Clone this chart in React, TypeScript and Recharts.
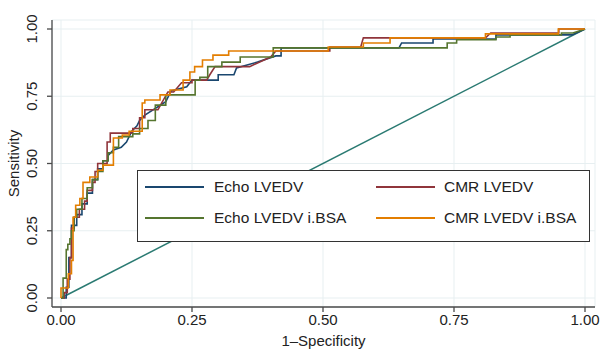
import React from 'react';
import { LineChart, Line, XAxis, YAxis, CartesianGrid, Legend, Label } from 'recharts';

const axisTicks = [0, 0.25, 0.5, 0.75, 1];

const echoLvedv: [number, number][] = [
  [0, 0], [0.01, 0], [0.01, 0.04], [0.015, 0.04], [0.015, 0.15], [0.02, 0.15], [0.02, 0.27], [0.03, 0.27],
  [0.03, 0.31], [0.04, 0.31], [0.04, 0.35], [0.05, 0.35], [0.05, 0.39], [0.06, 0.39], [0.06, 0.44], [0.07, 0.44],
  [0.07, 0.48], [0.08, 0.48], [0.08, 0.51], [0.09, 0.51], [0.09, 0.53], [0.1, 0.55], [0.115, 0.56], [0.125, 0.58],
  [0.13, 0.6], [0.135, 0.62], [0.145, 0.64], [0.15, 0.66], [0.16, 0.68], [0.2, 0.73], [0.21, 0.77], [0.24, 0.785],
  [0.25, 0.81], [0.3, 0.81], [0.3, 0.83], [0.33, 0.83], [0.335, 0.855], [0.375, 0.877], [0.41, 0.9], [0.42, 0.9],
  [0.42, 0.93], [0.645, 0.93], [0.65, 0.948], [0.71, 0.948], [0.71, 0.963], [0.83, 0.963], [0.83, 0.978],
  [0.975, 0.978], [1, 1],
];

const cmrLvedv: [number, number][] = [
  [0, 0], [0.006, 0], [0.006, 0.02], [0.012, 0.02], [0.012, 0.07], [0.017, 0.07], [0.017, 0.15], [0.02, 0.15],
  [0.02, 0.26], [0.025, 0.26], [0.025, 0.3], [0.035, 0.3], [0.035, 0.33], [0.045, 0.33], [0.045, 0.36], [0.05, 0.36],
  [0.05, 0.4], [0.06, 0.4], [0.06, 0.43], [0.065, 0.43], [0.065, 0.47], [0.07, 0.47], [0.07, 0.5], [0.088, 0.5],
  [0.088, 0.58], [0.094, 0.58], [0.094, 0.613], [0.137, 0.613], [0.137, 0.63], [0.15, 0.63], [0.15, 0.67],
  [0.16, 0.67], [0.16, 0.7], [0.185, 0.7], [0.204, 0.766], [0.215, 0.766], [0.23, 0.8], [0.25, 0.8], [0.25, 0.81],
  [0.278, 0.81], [0.284, 0.83], [0.294, 0.86], [0.36, 0.86], [0.4, 0.896], [0.41, 0.918], [0.513, 0.918],
  [0.513, 0.933], [0.572, 0.933], [0.577, 0.967], [0.81, 0.967], [0.82, 0.985], [0.95, 0.985], [0.95, 1], [1, 1],
];

const echoLvedvBsa: [number, number][] = [
  [0, 0], [0.004, 0], [0.004, 0.074], [0.01, 0.074], [0.01, 0.18], [0.013, 0.18], [0.013, 0.2], [0.017, 0.2],
  [0.017, 0.22], [0.02, 0.22], [0.02, 0.25], [0.025, 0.25], [0.025, 0.3], [0.03, 0.3], [0.03, 0.33], [0.04, 0.33],
  [0.04, 0.37], [0.05, 0.37], [0.05, 0.41], [0.06, 0.41], [0.06, 0.44], [0.07, 0.44], [0.07, 0.47], [0.08, 0.47],
  [0.08, 0.51], [0.09, 0.51], [0.09, 0.54], [0.1, 0.54], [0.1, 0.56], [0.11, 0.56], [0.11, 0.6], [0.137, 0.6],
  [0.137, 0.61], [0.15, 0.61], [0.15, 0.63], [0.166, 0.63], [0.166, 0.66], [0.18, 0.66], [0.18, 0.717],
  [0.2, 0.717], [0.2, 0.755], [0.256, 0.755], [0.256, 0.81], [0.265, 0.81], [0.265, 0.82], [0.28, 0.82],
  [0.28, 0.86], [0.307, 0.86], [0.307, 0.877], [0.342, 0.877], [0.342, 0.896], [0.405, 0.896], [0.405, 0.93],
  [0.737, 0.93], [0.737, 0.948], [0.755, 0.948], [0.755, 0.96], [0.83, 0.96], [0.83, 0.97], [0.857, 0.97],
  [0.857, 0.978], [0.955, 0.978], [0.955, 0.985], [0.977, 0.985], [1, 1],
];

const cmrLvedvBsa: [number, number][] = [
  [0, 0], [0, 0.037], [0.014, 0.037], [0.014, 0.09], [0.02, 0.09], [0.02, 0.14], [0.023, 0.14], [0.023, 0.3],
  [0.028, 0.3], [0.028, 0.345], [0.036, 0.345], [0.036, 0.37], [0.042, 0.37], [0.042, 0.43], [0.055, 0.43],
  [0.055, 0.45], [0.07, 0.45], [0.07, 0.475], [0.08, 0.475], [0.08, 0.494], [0.1, 0.494], [0.1, 0.595],
  [0.117, 0.595], [0.117, 0.606], [0.13, 0.606], [0.13, 0.62], [0.155, 0.62], [0.155, 0.725], [0.16, 0.725],
  [0.16, 0.736], [0.189, 0.736], [0.189, 0.755], [0.208, 0.755], [0.208, 0.773], [0.233, 0.773], [0.233, 0.81],
  [0.246, 0.81], [0.246, 0.84], [0.255, 0.84], [0.255, 0.86], [0.27, 0.86], [0.27, 0.885], [0.29, 0.885],
  [0.29, 0.903], [0.32, 0.903], [0.32, 0.918], [0.51, 0.918], [0.51, 0.933], [0.577, 0.933], [0.577, 0.948],
  [0.628, 0.948], [0.628, 0.967], [0.81, 0.967], [0.81, 0.982], [0.949, 0.982], [0.949, 1], [1, 1],
];

const referenceLine: [number, number][] = [[0, 0], [1, 1]];

const seriesNames = ['Echo LVEDV', 'CMR LVEDV', 'Echo LVEDV i.BSA', 'CMR LVEDV i.BSA'];
const seriesColors = ['#1a476f', '#90353b', '#55752f', '#e37e00'];
const seriesData = [echoLvedv, cmrLvedv, echoLvedvBsa, cmrLvedvBsa];

const toPoints = (arr: [number, number][]) => arr.map(([x, y]) => ({ x, y }));

const FONT = '"Liberation Sans", Arial, Helvetica, sans-serif';
const AXIS = '#4a4a4a';

const fmt = (v: number) => v.toFixed(2);

const YTick = (props: any) => {
  const { x, y, payload } = props;
  const tx = x - 8;
  return (
    <text x={tx} y={y} transform={`rotate(-90, ${tx}, ${y})`} textAnchor="middle" fontSize={15} fontFamily={FONT} fill="#222">
      {fmt(payload.value)}
    </text>
  );
};

const LegendBox = () => {
  const cols = [
    { line: 7, text: 76 },
    { line: 238, text: 306 },
  ];
  const rows = [16, 47];
  return (
    <div style={{ position: 'relative', width: 453, height: 72, border: '1px solid #333', background: '#fff', boxSizing: 'border-box', fontFamily: FONT }}>
      {seriesNames.map((name, i) => {
        const c = cols[i % 2];
        const r = rows[Math.floor(i / 2)];
        return (
          <React.Fragment key={name}>
            <div style={{ position: 'absolute', left: c.line, top: r - 1, width: 59, height: 1.6, background: seriesColors[i] }} />
            <div style={{ position: 'absolute', left: c.text, top: r - 10, fontSize: 15.5, lineHeight: '20px', color: '#222', whiteSpace: 'nowrap' }}>{name}</div>
          </React.Fragment>
        );
      })}
    </div>
  );
};

export default function App() {
  return (
    <div style={{ position: 'absolute', left: 0, top: 0, background: '#fff' }}>
      <LineChart width={600} height={351} margin={{ top: 20, right: 5, bottom: 0, left: 0 }}>
        <CartesianGrid stroke="#e7eff1" strokeWidth={1} />
        <XAxis
          type="number"
          dataKey="x"
          domain={[0, 1]}
          ticks={axisTicks}
          interval={0}
          tickFormatter={fmt}
          padding={{ left: 9, right: 10 }}
          height={44}
          stroke={AXIS}
          strokeWidth={1.3}
          tickSize={5}
          tick={{ fontSize: 15, fontFamily: FONT, fill: '#222' }}
          allowDuplicatedCategory
        >
          <Label
            content={() => (
              <text x={323.5} y={346} textAnchor="middle" fontSize={15} fontFamily={FONT} fill="#222">1–Specificity</text>
            )}
          />
        </XAxis>
        <YAxis
          type="number"
          dataKey="y"
          domain={[0, 1]}
          ticks={axisTicks}
          interval={0}
          padding={{ top: 9, bottom: 9 }}
          width={52}
          stroke={AXIS}
          strokeWidth={1.3}
          tickSize={5}
          tick={<YTick />}
        >
          <Label
            content={() => (
              <text x={19} y={163.5} transform="rotate(-90, 19, 163.5)" textAnchor="middle" fontSize={15} fontFamily={FONT} fill="#222">Sensitivity</text>
            )}
          />
        </YAxis>
        <Line
          data={toPoints(referenceLine)}
          dataKey="y"
          type="linear"
          stroke="#2a7a72"
          strokeWidth={1.5}
          dot={false}
          isAnimationActive={false}
          legendType="none"
        />
        {seriesData.map((d, i) => (
          <Line
            key={seriesNames[i]}
            data={toPoints(d)}
            dataKey="y"
            name={seriesNames[i]}
            type="linear"
            stroke={seriesColors[i]}
            strokeWidth={1.6}
            dot={false}
            isAnimationActive={false}
          />
        ))}
        <Legend
          layout="horizontal"
          verticalAlign="middle"
          align="center"
          content={() => <LegendBox />}
          wrapperStyle={{ position: 'absolute', left: 137, top: 170, width: 453, height: 72 }}
        />
      </LineChart>
    </div>
  );
}
